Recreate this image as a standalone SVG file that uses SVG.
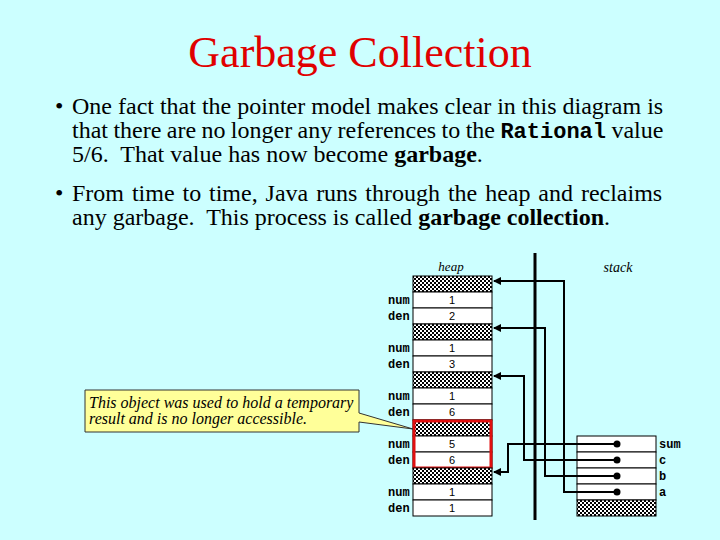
<svg xmlns="http://www.w3.org/2000/svg" width="720" height="540" viewBox="0 0 720 540">
<defs>
  <pattern id="hatch" width="4" height="4" patternUnits="userSpaceOnUse">
    <rect width="4" height="4" fill="#fff"/>
    <rect width="2" height="2" fill="#000"/>
    <rect x="2" y="2" width="2" height="2" fill="#000"/>
  </pattern>
  <marker id="arr" markerWidth="8" markerHeight="8" refX="7" refY="4" orient="auto" markerUnits="userSpaceOnUse">
    <path d="M0,0 L8,4 L0,8 Z" fill="#000"/>
  </marker>
  <style>
    .body{font-family:"Liberation Serif","Times New Roman",serif;font-size:24px;fill:#000}
    .cell{fill:#fff;stroke:#000;stroke-width:1}
    .hat{fill:url(#hatch);stroke:#000;stroke-width:1}
    .lbl{font-family:"Liberation Mono","Courier New",monospace;font-weight:bold;font-size:12px;fill:#000}
    .val{font-family:"Liberation Sans",Arial,sans-serif;font-size:11px;fill:#000;text-anchor:middle}
    .it{font-family:"Liberation Serif","Times New Roman",serif;font-style:italic;fill:#000}
    .con{fill:none;stroke:#000;stroke-width:2}
  </style>
</defs>
<rect width="720" height="540" fill="#CCFFFF"/>

<g id="title">
  <text x="360" y="67" text-anchor="middle" font-family="Liberation Serif, Times New Roman, serif" font-size="44" fill="#E00000">Garbage Collection</text>
</g>

<g id="bullet1">
  <text class="body" x="55" y="114">•</text>
  <text class="body" x="72" y="114">One fact that the pointer model makes clear in this diagram is</text>
  <text class="body" x="72" y="138" word-spacing="-0.6">that there are no longer any references to the <tspan font-family="Liberation Mono, Courier New, monospace" font-weight="bold" font-size="22">Rational</tspan> value</text>
  <text class="body" x="72" y="162" xml:space="preserve">5/6.  That value has now become <tspan font-weight="bold">garbage</tspan>.</text>
</g>

<g id="bullet2">
  <text class="body" x="55" y="201">•</text>
  <text class="body" x="72" y="201" word-spacing="1.9">From time to time, Java runs through the heap and reclaims</text>
  <text class="body" x="72" y="225" xml:space="preserve">any garbage.  This process is called <tspan font-weight="bold">garbage collection</tspan>.</text>
</g>

<g id="labels">
  <text class="it" x="451" y="271" font-size="13" text-anchor="middle">heap</text>
  <text class="it" x="618" y="272" font-size="14" text-anchor="middle">stack</text>
</g>

<g id="heap1">
  <rect class="hat" x="413" y="276" width="79" height="16"/>
  <rect class="cell" x="413" y="292" width="79" height="16"/>
  <rect class="cell" x="413" y="308" width="79" height="16"/>
  <text class="lbl" x="388" y="304">num</text><text class="val" x="452" y="304">1</text>
  <text class="lbl" x="388" y="320">den</text><text class="val" x="452" y="320">2</text>
</g>
<g id="heap2">
  <rect class="hat" x="413" y="324" width="79" height="16"/>
  <rect class="cell" x="413" y="340" width="79" height="16"/>
  <rect class="cell" x="413" y="356" width="79" height="16"/>
  <text class="lbl" x="388" y="352">num</text><text class="val" x="452" y="352">1</text>
  <text class="lbl" x="388" y="368">den</text><text class="val" x="452" y="368">3</text>
</g>
<g id="heap3">
  <rect class="hat" x="413" y="372" width="79" height="16"/>
  <rect class="cell" x="413" y="388" width="79" height="16"/>
  <rect class="cell" x="413" y="404" width="79" height="16"/>
  <text class="lbl" x="388" y="400">num</text><text class="val" x="452" y="400">1</text>
  <text class="lbl" x="388" y="416">den</text><text class="val" x="452" y="416">6</text>
</g>
<g id="heap4">
  <rect class="hat" x="413" y="420" width="79" height="16"/>
  <rect class="cell" x="413" y="436" width="79" height="16"/>
  <rect class="cell" x="413" y="452" width="79" height="16"/>
  <text class="lbl" x="388" y="448">num</text><text class="val" x="452" y="448">5</text>
  <text class="lbl" x="388" y="464">den</text><text class="val" x="452" y="464">6</text>
  <rect x="414" y="421" width="77" height="47" fill="none" stroke="#E01010" stroke-width="3"/>
</g>
<g id="heap5">
  <rect class="hat" x="413" y="468" width="79" height="16"/>
  <rect class="cell" x="413" y="484" width="79" height="16"/>
  <rect class="cell" x="413" y="500" width="79" height="16"/>
  <text class="lbl" x="388" y="496">num</text><text class="val" x="452" y="496">1</text>
  <text class="lbl" x="388" y="512">den</text><text class="val" x="452" y="512">1</text>
</g>

<g id="stack">
  <rect class="cell" x="577" y="436" width="79" height="16"/>
  <rect class="cell" x="577" y="452" width="79" height="16"/>
  <rect class="cell" x="577" y="468" width="79" height="16"/>
  <rect class="cell" x="577" y="484" width="79" height="16"/>
  <rect class="hat" x="577" y="500" width="79" height="16"/>
  <circle cx="617" cy="444" r="3.5" fill="#000"/>
  <circle cx="617" cy="460" r="3.5" fill="#000"/>
  <circle cx="617" cy="476" r="3.5" fill="#000"/>
  <circle cx="617" cy="492" r="3.5" fill="#000"/>
  <text class="lbl" x="659" y="448">sum</text>
  <text class="lbl" x="659" y="464">c</text>
  <text class="lbl" x="659" y="480">b</text>
  <text class="lbl" x="659" y="496">a</text>
</g>

<g id="callout">
  <path d="M85,390 H359 V413 L413,429 L359,422 V432 H85 Z" fill="#FFFF99" stroke="#333" stroke-width="1"/>
  <text class="it" x="89" y="408" font-size="16">This object was used to hold a temporary</text>
  <text class="it" x="89" y="424" font-size="16">result and is no longer accessible.</text>
</g>

<g id="connectors">
  <line x1="535" y1="253" x2="535" y2="520" stroke="#000" stroke-width="3"/>
  <path class="con" d="M617,492 H564 V281 H494" marker-end="url(#arr)"/>
  <path class="con" d="M617,476 H545 V328 H494" marker-end="url(#arr)"/>
  <path class="con" d="M617,460 H524 V376 H494" marker-end="url(#arr)"/>
  <path class="con" d="M617,444 H508 V472 H494" marker-end="url(#arr)"/>
</g>
</svg>
